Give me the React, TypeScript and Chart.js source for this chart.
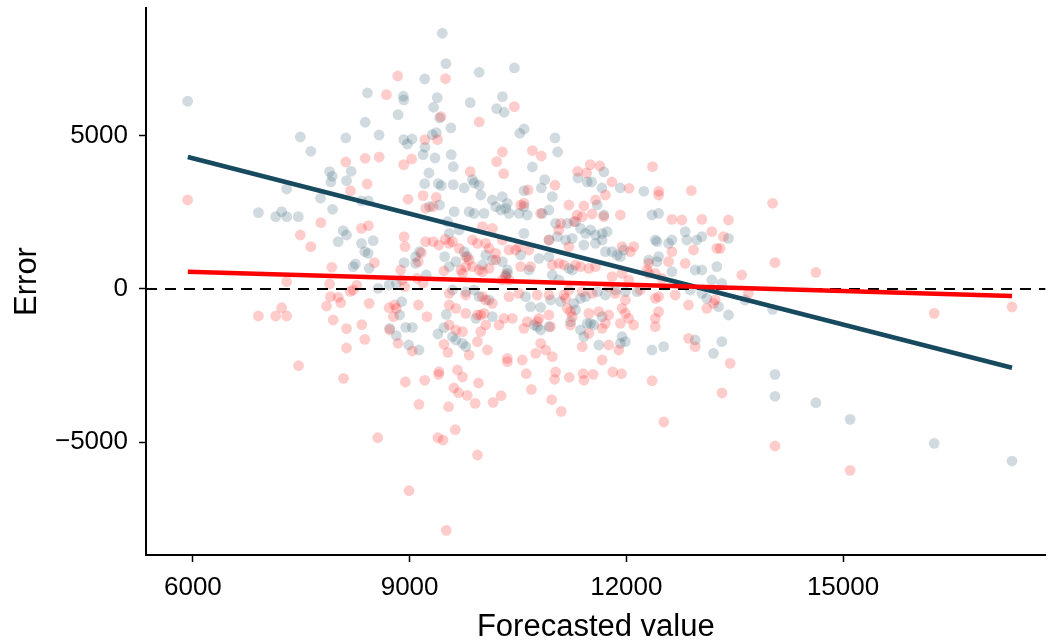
import React, { useEffect, useRef } from "react";
import { Chart, registerables } from "chart.js";

Chart.register(...registerables);

// Axis limits and tick values
const xRange = [5351, 17804];
const yRange = [-8676, 9165];
const xTickValues = [6000, 9000, 12000, 15000];
const yTickValues = [-5000, 0, 5000];

// First model: forecasted value vs error
const modelAPoints: number[][] = [
  [5927, 6123], [9452, 8341], [9503, 7350], [9209, 6850], [8417, 6394], [8914, 6286], [8920, 6170],
  [9383, 6241], [9332, 5927], [8840, 5686], [8385, 5438], [9415, 5578], [7487, 4958], [8117, 4926],
  [8578, 5023], [8919, 4871], [9034, 4893], [8969, 4730], [9314, 5033], [9369, 5098], [7633, 4491],
  [9186, 4382], [9351, 4273], [9213, 4622], [9268, 3784], [7892, 3826], [7929, 3676], [8191, 3839],
  [7910, 3490], [8127, 3533], [9209, 3435], [9398, 3435], [9439, 3370], [7298, 3262],
  [9963, 7068], [10451, 7209], [10285, 6273], [9839, 6077], [10205, 5882], [10309, 5764], [9572, 5252],
  [10525, 5079], [10585, 5219], [11013, 4926], [11050, 4469], [9577, 4382], [9604, 3989], [10700, 3980],
  [11690, 3817], [11330, 3621], [11459, 3490], [11520, 3490], [10870, 3566], [9870, 3566], [9894, 3458],
  [9963, 3383], [11662, 3295], [11916, 3295], [12243, 3187], [9604, 3403], [10585, 3207], [10824, 3295],
  [9756, 3295],
  [7767, 2958], [7933, 2600], [8334, 2871], [8430, 2871], [6907, 2489], [7146, 2359], [7229, 2522],
  [7298, 2359], [7459, 2359], [8081, 1903], [8127, 1761], [8011, 1543], [8334, 1490], [8495, 1576],
  [8426, 1164], [8380, 1217], [8251, 815], [8219, 728], [8440, 675], [8564, 22], [8716, 130],
  [8817, 186], [8924, 858], [9084, 1054], [9139, 1217], [9084, 837], [9231, 457], [9276, 2685],
  [9415, 2740], [9485, 1054], [9526, 2195], [8862, -848], [8890, -414], [8724, -1282], [8817, -1523],
  [8946, -1250], [9038, -1250], [8988, -1827], [9130, -1990], [9392, -1468], [9475, -1262], [9508, -826],
  [9985, 3066], [10146, 2903], [10284, 3012], [10353, 2794], [10330, 2631], [10192, 2685], [10261, 2577],
  [10376, 2468], [9824, 2522], [9893, 2468], [10031, 2468], [9617, 2522], [10514, 2468], [10629, 2414],
  [10583, 2685], [10837, 2468], [10929, 2577], [10975, 3012], [11021, 2142], [11182, 2142], [11297, 2196],
  [11366, 1979], [11435, 1815], [11504, 1924], [11573, 1761], [11665, 1815], [11734, 1870], [11596, 2740],
  [11688, 2414], [11159, 1598], [11251, 1652], [11412, 1435], [11573, 1489], [11665, 1598], [11711, 1218],
  [11803, 1218], [11872, 1109], [11918, 1054], [11964, 1272], [11044, 1707], [10929, 1598], [10791, 1000],
  [10929, 1054], [12355, 2414], [12447, 2468], [12401, 1598], [12424, 1544], [12585, 1489], [12631, 1598],
  [12815, 1870], [12838, 1598], [12976, 1598], [13046, 1707], [13414, 1652], [12309, 946], [12447, 1054],
  [12424, 891], [12631, 565], [12953, 620], [13046, 620], [13253, 728], [13184, 293], [13322, 185],
  [9548, 1815], [9686, 1924], [9755, 1218], [9801, 1054], [9640, 891], [9548, 728], [9594, -33],
  [10054, 1109], [10008, 783], [10146, 946], [10284, 891], [10353, 511], [10353, 620], [10583, 1815],
  [10537, 1109], [10330, 402], [10652, 620], [10975, 456], [11067, 293], [11205, 674], [11251, 620],
  [11596, -87], [11711, -196], [11849, -33], [11987, -87], [12148, -87], [10606, -250], [10675, -577],
  [10814, -598], [10952, -359], [11090, -414], [11274, -468], [11366, -305], [11435, -250], [11297, -685],
  [11228, -1066], [11366, -1338], [11412, -1555], [11458, -1120], [11504, -1120], [11550, -1175], [11665, -903],
  [9778, -87], [9893, -33], [9962, -250], [10100, -359], [10146, -903], [9916, -957], [10721, -1175],
  [10768, -1229], [10814, -1338], [10929, -1229], [9594, -1555], [9640, -1664], [9732, -1773], [9778, -1881],
  [11941, -1555], [11987, -1718], [11918, -1773], [12355, -1990], [12516, -1881], [12953, -1664], [13207, -2099],
  [13322, -1718], [13414, -848], [12884, -33], [13046, -142], [13115, -305], [13276, -577], [13644, -359],
  [11619, -1827],
  [14058, -2783], [14058, -3500], [14624, -3709], [15098, -4251], [16262, -5034], [17339, -5611], [14025, -663],
];

// Second model: forecasted value vs error
const modelBPoints: number[][] = [
  [8836, 6948], [8679, 6338], [9497, 6860], [9434, 5620], [9213, 4871], [9387, 4871], [8117, 4143],
  [8385, 4263], [8578, 4306], [8919, 4056], [9029, 4241], [8413, 3425], [8182, 3207],
  [10451, 5947], [9963, 5448], [10285, 4469], [10700, 4512], [10824, 4338], [10205, 4153], [10302, 3761],
  [9839, 3826], [11326, 3839], [11450, 3784], [11500, 4056], [11634, 4012], [12363, 3990], [11800, 3490],
  [11013, 3383], [12038, 3285], [12900, 3207], [12450, 3187], [10640, 3229],
  [5927, 2903], [8978, 2926], [9186, 3044], [9369, 2991], [9222, 2632], [9324, 2685], [7771, 2163],
  [7487, 1761], [7633, 1380], [8334, 1979], [8430, 2065], [8924, 1707], [8937, 1380], [9222, 1543],
  [9324, 1543], [9406, 1435], [9162, 1184], [9121, 891], [8513, 858], [7923, 708], [7298, 238],
  [7892, 163], [8219, -33], [8269, 121], [8876, 620], [8899, 294], [8932, 75], [9102, 349],
  [9186, 186], [9475, 587], [7905, -251], [8011, -271], [8047, -447], [7850, -555], [8440, -467],
  [7229, -610], [6907, -881], [7146, -881], [7298, -881], [7943, -1011], [8716, -610], [8793, -522],
  [8817, -630], [8776, -903], [9121, -522], [9241, -903], [8338, -1163], [8127, -1294], [8380, -1641],
  [8724, -1337], [8840, -1771], [8127, -1925], [9038, -2022], [9475, -1804], [7463, -2502], [9406, -2698],
  [9530, -2065], [9494, 1620], [8178, -76],
  [10583, 2794], [10537, 2740], [10814, 2468], [11205, 2740], [11412, 2707], [11573, 2903], [11711, 3066],
  [12447, 3066], [11320, 2414], [11274, 2196], [11389, 2359], [11527, 2446], [11688, 2359], [11918, 2414],
  [12631, 2272], [12769, 2250], [13046, 2272], [13414, 2250], [10008, 2033], [10146, 1979], [10284, 1598],
  [10376, 1272], [10468, 1272], [10514, 1381], [10652, 1272], [10929, 1598], [11067, 1924], [11090, 2142],
  [11205, 1381], [9548, 1489], [9594, 1544], [9686, 1326], [9870, 1598], [9939, 1489], [10054, 1489],
  [10100, 1326], [10192, 1163], [10192, 946], [9778, 1054], [9824, 946], [9870, 728], [9778, 728],
  [9709, 620], [9732, 511], [9962, 620], [10008, 565], [10100, 674], [10537, 728], [10675, 728],
  [10975, 783], [11067, 837], [11136, 783], [11297, 783], [11366, 728], [11481, 674], [11573, 728],
  [11941, 1381], [12056, 1218], [12102, 1381], [12309, 837], [12585, 891], [12631, 1218], [12815, 837],
  [12930, 1272], [13184, 1870], [13253, 1326], [13299, 1326], [13345, 1707], [13598, 456], [10330, 456],
  [10284, 293], [10376, 293], [11803, 402], [11941, 511], [12033, 293], [12286, 620], [12309, 511],
  [12401, 511], [12493, 348], [9548, -142], [9778, -196], [10008, -250], [10054, -359], [10146, -468],
  [10376, -250], [10514, -142], [10767, -196], [10929, -196], [11136, -196], [11159, -305], [11205, -33],
  [11389, -87], [11527, -142], [11757, 76], [11849, -142], [11987, -359], [12194, -33], [12401, -305],
  [12447, -250], [12677, -196], [12861, -522], [13115, -631], [13207, -468], [13230, -359], [9548, -522],
  [9640, -631], [9778, -794], [9939, -848], [9985, -848], [10031, -794], [10307, -957], [10422, -957],
  [10791, -957], [10929, -848], [11182, -631], [11228, -740], [11251, -903], [11481, -794], [11619, -740],
  [11757, -848], [11941, -631], [11987, -794], [12033, -957], [12401, -957], [12447, -740], [9548, -1175],
  [9640, -1338], [9732, -1392], [9985, -1392], [10054, -1175], [10238, -1175], [10583, -1283], [10629, -1066],
  [10767, -1066], [10952, -1229], [11228, -1175], [11481, -1446], [11665, -1283], [11711, -1120], [11918, -1120],
  [12102, -1175], [12401, -1229], [9939, -1718], [10077, -1990], [10353, -2262], [10353, -2370], [10560, -2316],
  [10745, -2099], [10814, -1773], [10883, -1990], [10975, -2208], [11389, -1881], [11665, -2316], [11757, -1827],
  [11895, -1990], [12861, -1609], [12953, -1881], [13437, -2425], [9824, -2153], [9663, -2642],
  [8085, -2913], [8941, -3034], [9209, -2978], [9402, -2783], [9130, -3761], [9540, -3839], [8559, -4851],
  [9392, -4851], [9462, -4926], [8992, -6579], [9508, -7872],
  [9733, -2871], [9954, -3066], [9613, -3229], [9678, -3383], [9798, -3468], [9908, -3729], [10156, -3696],
  [10267, -3481], [9632, -4590], [9940, -5415], [10615, -2763], [11021, -2708], [11403, -2763], [11541, -2783],
  [11813, -2708], [11933, -2763], [10686, -3273], [11007, -2945], [11210, -2880], [11413, -2978], [10966, -3611],
  [11099, -3990], [12357, -2991], [12519, -4338], [13324, -3392],
  [14058, -5121], [15098, -5914], [14025, 2795], [14058, 858], [14624, 544], [13690, -141], [16262, -794],
  [17339, -587],
];

// Fitted trend lines (endpoints at the data's x extent)
const fitX = [5930, 17339];
const modelAFitY = [4306, -2567];
const modelBFitY = [565, -228];

const NAVY = "#174a5f";
const FONT = '"Liberation Sans", Arial, Helvetica, sans-serif';

const toXY = (pts: number[][]) => pts.map(([x, y]) => ({ x, y }));
const fmt = (v: number) => String(v).replace("-", "\u2212");

export default function App() {
  const canvasRef = useRef<HTMLCanvasElement | null>(null);

  useEffect(() => {
    if (!canvasRef.current) return;
    const chart = new Chart(canvasRef.current, {
      type: "scatter",
      data: {
        datasets: [
          {
            label: "model B fit",
            data: fitX.map((x, i) => ({ x, y: modelBFitY[i] })),
            showLine: true,
            borderColor: "#ff0000",
            borderWidth: 4.5,
            pointRadius: 0,
            order: 0,
          },
          {
            label: "model A fit",
            data: fitX.map((x, i) => ({ x, y: modelAFitY[i] })),
            showLine: true,
            borderColor: NAVY,
            borderWidth: 4.5,
            pointRadius: 0,
            order: 1,
          },
          {
            label: "zero",
            data: [
              { x: xRange[0], y: 0 },
              { x: xRange[1], y: 0 },
            ],
            showLine: true,
            borderColor: "#000000",
            borderWidth: 2.2,
            borderDash: [11, 8],
            pointRadius: 0,
            order: 2,
          },
          {
            label: "model B",
            data: toXY(modelBPoints),
            backgroundColor: "rgba(255,0,0,0.2)",
            borderWidth: 0,
            pointRadius: 5.4,
            order: 3,
          },
          {
            label: "model A",
            data: toXY(modelAPoints),
            backgroundColor: "rgba(23,74,95,0.2)",
            borderWidth: 0,
            pointRadius: 5.4,
            order: 4,
          },
        ],
      },
      options: {
        animation: false,
        responsive: true,
        maintainAspectRatio: false,
        events: [],
        layout: { padding: { top: 8, right: 3, left: 0, bottom: 0 } },
        plugins: { legend: { display: false }, tooltip: { enabled: false } },
        scales: {
          x: {
            type: "linear",
            min: xRange[0],
            max: xRange[1],
            afterBuildTicks: (axis: any) => {
              axis.ticks = xTickValues.map((value) => ({ value }));
            },
            afterFit: (axis: any) => {
              axis.height = 87;
              axis.paddingLeft = 0;
              axis.paddingRight = 0;
            },
            border: { display: true, color: "#000", width: 2 },
            grid: { display: true, drawOnChartArea: false, drawTicks: true, tickLength: 7, tickWidth: 1.5, tickColor: "#000" },
            ticks: {
              color: "#000",
              font: { family: FONT, size: 26 },
              padding: 10,
              maxRotation: 0,
              callback: (v: any) => fmt(Number(v)),
            },
            title: {
              display: true,
              text: "Forecasted value",
              color: "#000",
              font: { family: FONT, size: 31 },
              padding: { top: 0, bottom: -4 },
            },
          },
          y: {
            type: "linear",
            min: yRange[0],
            max: yRange[1],
            afterBuildTicks: (axis: any) => {
              axis.ticks = yTickValues.map((value) => ({ value }));
            },
            afterFit: (axis: any) => {
              axis.width = 146;
              axis.paddingTop = 0;
              axis.paddingBottom = 0;
            },
            border: { display: true, color: "#000", width: 2 },
            grid: { display: true, drawOnChartArea: false, drawTicks: true, tickLength: 7, tickWidth: 1.5, tickColor: "#000" },
            ticks: {
              color: "#000",
              font: { family: FONT, size: 26 },
              padding: 11,
              callback: (v: any) => fmt(Number(v)),
            },
            title: {
              display: true,
              text: "Error",
              color: "#000",
              font: { family: FONT, size: 31 },
              padding: { top: 9, bottom: 0 },
            },
          },
        },
      },
    } as any);
    return () => chart.destroy();
  }, []);

  return (
    <div style={{ position: "fixed", left: 0, top: 0, width: 1051, height: 642, background: "#fff" }}>
      <canvas ref={canvasRef} />
    </div>
  );
}
